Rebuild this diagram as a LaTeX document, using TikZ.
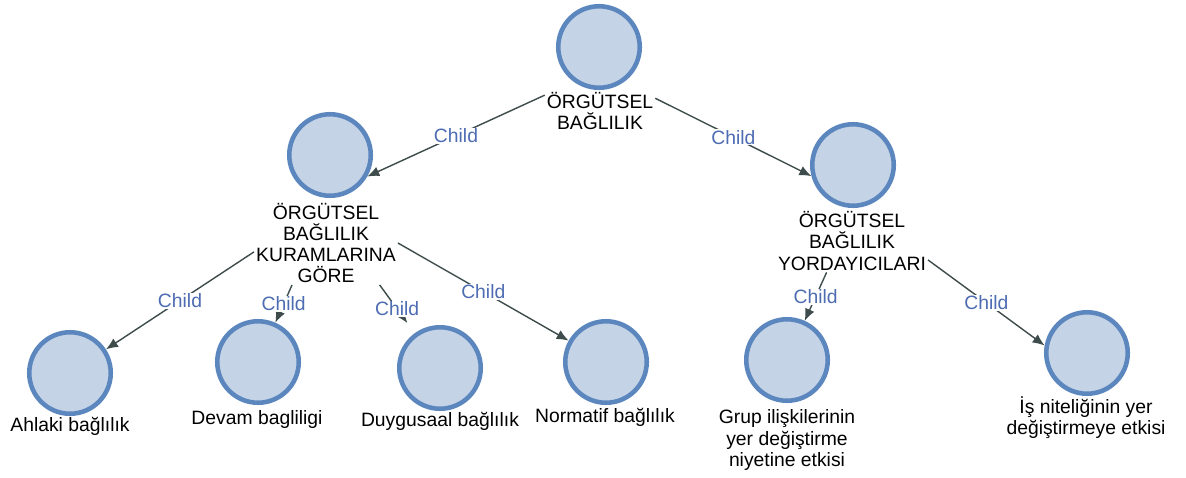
\documentclass[tikz,border=0pt]{standalone}
\usepackage{fontspec}
\setmainfont{Liberation Sans}
\usetikzlibrary{arrows.meta}
\definecolor{ballfill}{HTML}{C5D3E6}
\definecolor{balledge}{HTML}{5B87BE}
\definecolor{linkcol}{HTML}{3E4C4C}
\definecolor{childcol}{HTML}{4D6CB2}
\tikzset{
  ball/.style={circle,draw=balledge,fill=ballfill,line width=2.6pt,minimum size=1.63cm,inner sep=0pt},
  caption/.style={align=center,inner sep=1pt,font=\fontsize{11}{12}\selectfont},
  link/.style={draw=linkcol,line width=0.8pt,-{Latex[length=2.4mm,width=2mm]}},
  childlbl/.style={midway,fill=white,inner sep=0.5pt,text=childcol,font=\fontsize{11}{11}\selectfont}
}
\begin{document}
\begin{tikzpicture}[x=0.02cm,y=-0.02cm]
    \useasboundingbox[fill=white](0,0)rectangle(1186,477);
    % circles
    \foreach \name/\x/\y in {
        root/599/47,
        midl/330/155,
        midr/853/165,
        ahlaki/70/373,
        devam/258/362,
        duygu/440/368,
        normatif/606/362,
        grup/787/360,
        isnit/1087/353}{
        \node[ball](\name) at (\x,\y){};
    }
    % labels
    \node[caption](rootlbl) at (600,111){ÖRGÜTSEL\\BAĞLILIK};
    \node[caption](kuram) at (326,243){ÖRGÜTSEL\\BAĞLILIK\\KURAMLARINA\\GÖRE};
    \node[caption](yord) at (852,241){ÖRGÜTSEL\\BAĞLILIK\\YORDAYICILARI};
    \node[caption](ahlakilbl) at (70,426){Ahlaki bağlılık};
    \node[caption](devamlbl) at (257,419){Devam bagliligi};
    \node[caption](duygulbl) at (440,421){Duygusaal bağlılık};
    \node[caption](normatiflbl) at (605,417){Normatif bağlılık};
    \node[caption](gruplbl) at (787,440){Grup ilişkilerinin\\yer değiştirme\\niyetine etkisi};
    \node[caption](isnitlbl) at (1086,418){İş niteliğinin yer\\değiştirmeye etkisi};
    % connectors
    \draw[link](rootlbl.164)--(midl.330)node[childlbl]{Child};
    \draw[link](rootlbl.13)--(midr.195)node[childlbl]{Child};
    \draw[link](kuram.187)--(ahlaki)node[childlbl]{Child};
    \draw[link](kuram.231)--(devam)node[childlbl]{Child};
    \draw[link,shorten >=0.25cm](kuram.322)--(duygu)node[childlbl]{Child};
    \draw[link](kuram.0)--(normatif)node[childlbl]{Child};
    \draw[link](yord.231)--(grup)node[childlbl]{Child};
    \draw[link](yord.346)--(isnit.170)node[childlbl]{Child};
\end{tikzpicture}
\end{document}
